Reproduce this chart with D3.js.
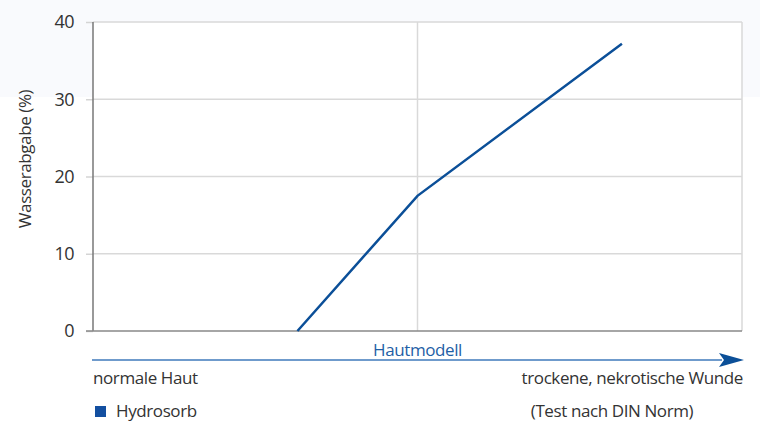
<!DOCTYPE html>
<html>
<head>
<meta charset="utf-8">
<script src="https://cdn.jsdelivr.net/npm/d3@7"></script>
<style>
  body { margin: 0; background: #fff; }
  text { font-family: "Open Sans", sans-serif; letter-spacing: -0.4px; }
</style>
</head>
<body>
<div id="chart"></div>
<script>
// values
const xPos = [0.63, 1.0, 1.63];
const yVals = [0, 17.5, 37.2];
const yTicks = [0, 10, 20, 30, 40];
const xGrid = [0, 1, 2];
const seriesName = "Hydrosorb";
const yLabel = "Wasserabgabe (%)";
const arrowLabel = "Hautmodell";
const leftLabel = "normale Haut";
const rightLabel = "trockene, nekrotische Wunde";
const note = "(Test nach DIN Norm)";

function init() {
    const w = 760;
    const h = 423;
    const left = 93, right = 742, top = 22, bottom = 331;

    const svg = d3.select("#chart")
        .append("svg")
        .attr("width", w)
        .attr("height", h);

    // faint band at the top
    svg.append("rect")
        .attr("x", 0).attr("y", 0)
        .attr("width", w).attr("height", 97)
        .attr("fill", "#f9fafd");

    const x = d3.scaleLinear().domain([0, 2]).range([left, right]);
    const y = d3.scaleLinear().domain([0, 40]).range([bottom, top]);

    svg.append("rect")
        .attr("x", left).attr("y", top)
        .attr("width", right - left).attr("height", bottom - top)
        .attr("fill", "#fff");

    // tick marks + labels
    svg.append("g")
        .attr("transform", `translate(${left},0)`)
        .call(d3.axisLeft(y).tickValues(yTicks).tickSize(7).tickPadding(12))
        .call(g => g.select(".domain").remove())
        .call(g => g.selectAll("line").attr("stroke", "#d4d4d4").attr("stroke-width", 1.5))
        .call(g => g.selectAll("text")
            .attr("font-size", 18)
            .attr("fill", "#333")
            .attr("font-family", "'Open Sans', sans-serif")
            .style("letter-spacing", "-0.6px"));

    svg.append("g")
        .selectAll("line")
        .data(yTicks.filter(d => d > 0))
        .enter().append("line")
        .attr("x1", left).attr("x2", right)
        .attr("y1", d => y(d)).attr("y2", d => y(d))
        .attr("stroke", "#d9d9d9")
        .attr("stroke-width", 1.5);

    svg.append("g")
        .selectAll("line")
        .data(xGrid.slice(1))
        .enter().append("line")
        .attr("x1", d => x(d)).attr("x2", d => x(d))
        .attr("y1", top).attr("y2", bottom)
        .attr("stroke", "#d9d9d9")
        .attr("stroke-width", 1.5);

    // axes lines
    svg.append("line")
        .attr("x1", x(0)).attr("x2", x(0))
        .attr("y1", top).attr("y2", bottom)
        .attr("stroke", "#777").attr("stroke-width", 1.5);
    svg.append("line")
        .attr("x1", left - 7).attr("x2", right)
        .attr("y1", y(0)).attr("y2", y(0))
        .attr("stroke", "#888").attr("stroke-width", 1.5);

    // series
    const line = d3.line()
        .x((d, i) => x(xPos[i]))
        .y(d => y(d));
    svg.append("path")
        .datum(yVals)
        .attr("d", line)
        .attr("fill", "none")
        .attr("stroke", "#0b4f98")
        .attr("stroke-width", 2.5);

    // y label
    svg.append("text")
        .attr("transform", `translate(31,159) rotate(-90)`)
        .attr("text-anchor", "middle")
        .attr("font-size", 17)
        .attr("fill", "#333")
        .text(yLabel);

    // arrow
    const ay = 360;
    svg.append("line")
        .attr("x1", left - 1).attr("x2", 722)
        .attr("y1", ay).attr("y2", ay)
        .attr("stroke", "#6f9bcc").attr("stroke-width", 2);
    svg.append("path")
        .attr("d", `M719,${ay - 7} L744,${ay} L719,${ay + 7} L724,${ay} Z`)
        .attr("fill", "#0b4f98");

    svg.append("text")
        .attr("x", x(1)).attr("y", 356)
        .attr("text-anchor", "middle")
        .attr("font-size", 17)
        .attr("fill", "#1f5fa6")
        .text(arrowLabel);

    svg.append("text")
        .attr("x", left).attr("y", 384)
        .attr("font-size", 17)
        .attr("fill", "#333")
        .text(leftLabel);
    svg.append("text")
        .attr("x", 743).attr("y", 384)
        .attr("text-anchor", "end")
        .attr("font-size", 17)
        .attr("fill", "#333")
        .text(rightLabel);

    // legend
    svg.append("rect")
        .attr("x", 95).attr("y", 406)
        .attr("width", 11).attr("height", 11)
        .attr("fill", "#134fa0");
    svg.append("text")
        .attr("x", 116).attr("y", 417)
        .attr("font-size", 17)
        .attr("fill", "#333")
        .text(seriesName);

    svg.append("text")
        .attr("x", 612).attr("y", 417)
        .attr("text-anchor", "middle")
        .attr("font-size", 17)
        .attr("fill", "#333")
        .text(note);
}

window.onload = init;
</script>
</body>
</html>
